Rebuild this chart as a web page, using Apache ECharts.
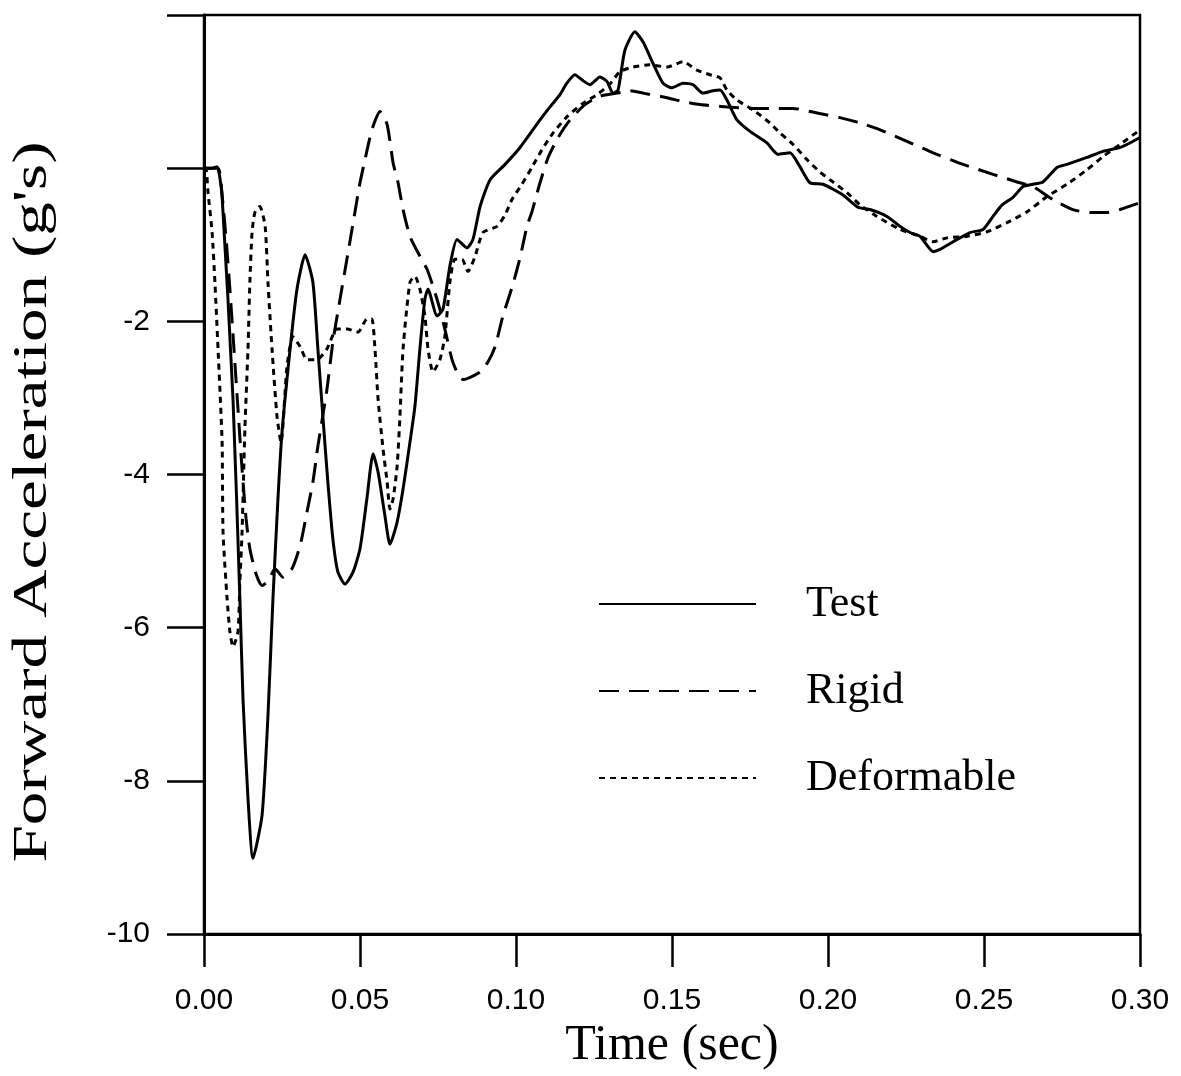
<!DOCTYPE html>
<html>
<head>
<meta charset="utf-8">
<script src="https://cdn.jsdelivr.net/npm/echarts@6/dist/echarts.min.js"></script>
<style>html,body{margin:0;padding:0;background:#fff}#c{width:1181px;height:1076px}</style>
</head>
<body>
<div id="c"></div>
<script>
// Time (sec) vs Forward Acceleration (g's)
const seriesNames = ['Test', 'Rigid', 'Deformable'];
const xTitle = 'Time (sec)';
const yTitle = "Forward Acceleration (g's)";

const test = [[0,0],[0.0025,0],[0.0042,0.02],[0.0058,-0.37],[0.0093,-3.02],[0.0115,-5.62],[0.0125,-6.93],[0.0141,-8.23],[0.0157,-9.01],[0.0186,-8.45],[0.0205,-7.15],[0.0221,-5.62],[0.0237,-4.32],[0.0250,-3.45],[0.0276,-2.36],[0.0298,-1.58],[0.0324,-1.13],[0.0349,-1.49],[0.0365,-2.36],[0.0381,-3.24],[0.0397,-4.10],[0.0413,-4.84],[0.0429,-5.27],[0.0452,-5.43],[0.0478,-5.27],[0.0500,-4.97],[0.0522,-4.32],[0.0542,-3.73],[0.0558,-3.97],[0.0580,-4.54],[0.0596,-4.91],[0.0619,-4.62],[0.0638,-4.19],[0.0660,-3.58],[0.0676,-3.11],[0.0692,-2.36],[0.0708,-1.71],[0.0718,-1.58],[0.0747,-1.93],[0.0766,-1.84],[0.0788,-1.28],[0.0811,-0.93],[0.0843,-1.04],[0.0862,-0.93],[0.0885,-0.50],[0.0917,-0.15],[0.0965,0.05],[0.1013,0.27],[0.1077,0.63],[0.1109,0.80],[0.1141,0.96],[0.1163,1.11],[0.1189,1.22],[0.1212,1.15],[0.1237,1.09],[0.1269,1.19],[0.1292,1.13],[0.1311,0.98],[0.1327,1.02],[0.1349,1.54],[0.1381,1.78],[0.1407,1.65],[0.1439,1.37],[0.1471,1.11],[0.1500,1.05],[0.1535,1.11],[0.1567,1.09],[0.1599,0.98],[0.1631,1.01],[0.1654,1.02],[0.1676,0.89],[0.1708,0.63],[0.1750,0.48],[0.1804,0.33],[0.1840,0.18],[0.1878,0.20],[0.1910,0.02],[0.1942,-0.19],[0.1984,-0.21],[0.2048,-0.35],[0.2096,-0.51],[0.2135,-0.54],[0.2189,-0.63],[0.2231,-0.76],[0.2263,-0.84],[0.2295,-0.89],[0.2337,-1.09],[0.2359,-1.06],[0.2401,-0.96],[0.2455,-0.84],[0.2497,-0.80],[0.2529,-0.63],[0.2558,-0.48],[0.2593,-0.38],[0.2625,-0.24],[0.2657,-0.21],[0.2689,-0.18],[0.2734,0.01],[0.2766,0.05],[0.2830,0.14],[0.2881,0.22],[0.2936,0.27],[0.2968,0.33],[0.3000,0.40]];

const rigid = [[0,0],[0.0045,0],[0.0058,-0.35],[0.0071,-0.93],[0.0083,-1.58],[0.0096,-2.36],[0.0109,-3.15],[0.0122,-3.93],[0.0135,-4.58],[0.0147,-4.97],[0.0167,-5.30],[0.0186,-5.45],[0.0205,-5.39],[0.0228,-5.23],[0.0253,-5.34],[0.0282,-5.23],[0.0308,-4.93],[0.0330,-4.49],[0.0349,-4.10],[0.0365,-3.63],[0.0394,-2.89],[0.0413,-2.27],[0.0436,-1.71],[0.0458,-1.19],[0.0478,-0.71],[0.0500,-0.19],[0.0516,0.11],[0.0538,0.50],[0.0564,0.74],[0.0587,0.57],[0.0606,0.07],[0.0622,-0.19],[0.0638,-0.54],[0.0660,-0.89],[0.0692,-1.15],[0.0715,-1.32],[0.0737,-1.58],[0.0756,-1.84],[0.0776,-2.17],[0.0795,-2.50],[0.0814,-2.69],[0.0830,-2.76],[0.0853,-2.73],[0.0885,-2.66],[0.0910,-2.53],[0.0933,-2.33],[0.0958,-1.93],[0.0987,-1.56],[0.1013,-1.17],[0.1035,-0.76],[0.1051,-0.57],[0.1077,-0.19],[0.1103,0.14],[0.1135,0.40],[0.1173,0.63],[0.1221,0.83],[0.1269,0.94],[0.1324,0.98],[0.1365,1.01],[0.1407,0.98],[0.1484,0.92],[0.1535,0.87],[0.1590,0.83],[0.1676,0.80],[0.1760,0.78],[0.1824,0.78],[0.1888,0.78],[0.1965,0.72],[0.2038,0.66],[0.2103,0.59],[0.2167,0.50],[0.2253,0.35],[0.2337,0.20],[0.2433,0.05],[0.2529,-0.08],[0.2606,-0.18],[0.2657,-0.24],[0.2721,-0.41],[0.2785,-0.54],[0.2840,-0.58],[0.2894,-0.58],[0.2936,-0.54],[0.3000,-0.45]];

const deformable = [[0,0],[0.0006,0],[0.0013,-0.32],[0.0026,-0.84],[0.0035,-1.49],[0.0045,-2.36],[0.0058,-3.58],[0.0061,-4.75],[0.0074,-5.62],[0.0083,-6.05],[0.0093,-6.25],[0.0109,-6.05],[0.0115,-5.40],[0.0122,-4.75],[0.0131,-3.41],[0.0141,-2.36],[0.0147,-1.49],[0.0154,-0.84],[0.0163,-0.58],[0.0179,-0.50],[0.0196,-0.76],[0.0205,-1.49],[0.0218,-2.36],[0.0234,-3.24],[0.0247,-3.58],[0.0266,-2.59],[0.0285,-2.20],[0.0308,-2.33],[0.0330,-2.50],[0.0362,-2.50],[0.0394,-2.36],[0.0426,-2.10],[0.0458,-2.10],[0.0494,-2.14],[0.0522,-1.97],[0.0538,-1.97],[0.0548,-2.36],[0.0558,-3.02],[0.0574,-3.67],[0.0587,-4.10],[0.0596,-4.45],[0.0606,-4.32],[0.0619,-3.89],[0.0628,-3.24],[0.0638,-2.36],[0.0660,-1.49],[0.0676,-1.41],[0.0692,-1.58],[0.0708,-1.93],[0.0718,-2.36],[0.0734,-2.66],[0.0756,-2.50],[0.0772,-2.20],[0.0788,-1.49],[0.0804,-1.19],[0.0827,-1.19],[0.0846,-1.35],[0.0869,-1.15],[0.0894,-0.84],[0.0939,-0.76],[0.0965,-0.61],[0.0987,-0.41],[0.1019,-0.21],[0.1051,0.01],[0.1083,0.24],[0.1119,0.46],[0.1163,0.67],[0.1212,0.84],[0.1263,0.97],[0.1301,1.10],[0.1333,1.26],[0.1375,1.32],[0.1429,1.35],[0.1484,1.32],[0.1535,1.39],[0.1580,1.28],[0.1622,1.22],[0.1654,1.18],[0.1676,1.02],[0.1708,0.89],[0.1760,0.76],[0.1814,0.59],[0.1846,0.46],[0.1888,0.31],[0.1933,0.11],[0.1974,-0.05],[0.2006,-0.15],[0.2061,-0.32],[0.2103,-0.48],[0.2157,-0.63],[0.2231,-0.80],[0.2295,-0.89],[0.2337,-0.96],[0.2381,-0.91],[0.2446,-0.89],[0.2510,-0.83],[0.2574,-0.71],[0.2638,-0.57],[0.2702,-0.37],[0.2766,-0.21],[0.2830,-0.02],[0.2881,0.15],[0.2936,0.31],[0.3000,0.50]];

const xMin = 0, xMax = 0.3, xStep = 0.05;
const yMin = -10, yMax = 2, yStep = 2;

const chart = echarts.init(document.getElementById('c'), null, {renderer: 'canvas'});
const sans = 'Liberation Sans';
const serif = 'Liberation Serif';

function mkSeries(name, data, type, width) {
  return {
    name: name, type: 'line', data: data,
    symbol: 'none', showSymbol: false, smooth: 0.2,
    lineStyle: {color: '#000', width: width, type: type},
    itemStyle: {color: '#000'},
    emphasis: {disabled: true},
    z: 3
  };
}

chart.setOption({
  animation: false,
  backgroundColor: '#fff',
  grid: {left: 204, right: 41, top: 15, bottom: 140, show: true, borderColor: '#000', borderWidth: 2.5, containLabel: false},
  xAxis: {
    type: 'value', min: xMin, max: xMax, interval: xStep,
    name: xTitle, nameLocation: 'middle', nameGap: 82,
    nameTextStyle: {fontFamily: serif, fontSize: 50, color: '#000'},
    axisLine: {show: true, onZero: false, lineStyle: {color: '#000', width: 3}},
    axisTick: {show: true, inside: false, length: 33, lineStyle: {color: '#000', width: 2.5}},
    axisLabel: {margin: 52, fontFamily: sans, fontSize: 30, color: '#000', formatter: v => v.toFixed(2)},
    splitLine: {show: false}
  },
  yAxis: {
    type: 'value', min: yMin, max: yMax, interval: yStep,
    axisLine: {show: true, onZero: false, lineStyle: {color: '#000', width: 3}},
    axisTick: {show: true, inside: false, length: 37, lineStyle: {color: '#000', width: 2.5}},
    axisLabel: {margin: 54, fontFamily: sans, fontSize: 30, color: '#000', formatter: v => (v <= -2 ? String(v) : '')},
    splitLine: {show: false}
  },
  legend: {
    orient: 'vertical', left: 593, top: 577,
    itemWidth: 157, itemHeight: 46, itemGap: 43,
    itemStyle: {opacity: 0, borderWidth: 0},
    textStyle: {fontFamily: serif, fontSize: 44, color: '#000', padding: [0, 0, 0, 45]},
    data: seriesNames,
    selectedMode: false
  },
  graphic: [{
    type: 'text', x: 33, y: 502, rotation: Math.PI / 2, scaleX: 1.4,
    style: {text: yTitle, font: '48px "Liberation Serif"', fill: '#000', align: 'center', verticalAlign: 'middle'}
  }],
  series: [
    mkSeries(seriesNames[0], test, 'solid', 3),
    mkSeries(seriesNames[1], rigid, [20, 10], 3),
    mkSeries(seriesNames[2], deformable, [6, 5], 3)
  ]
});
</script>
</body>
</html>
